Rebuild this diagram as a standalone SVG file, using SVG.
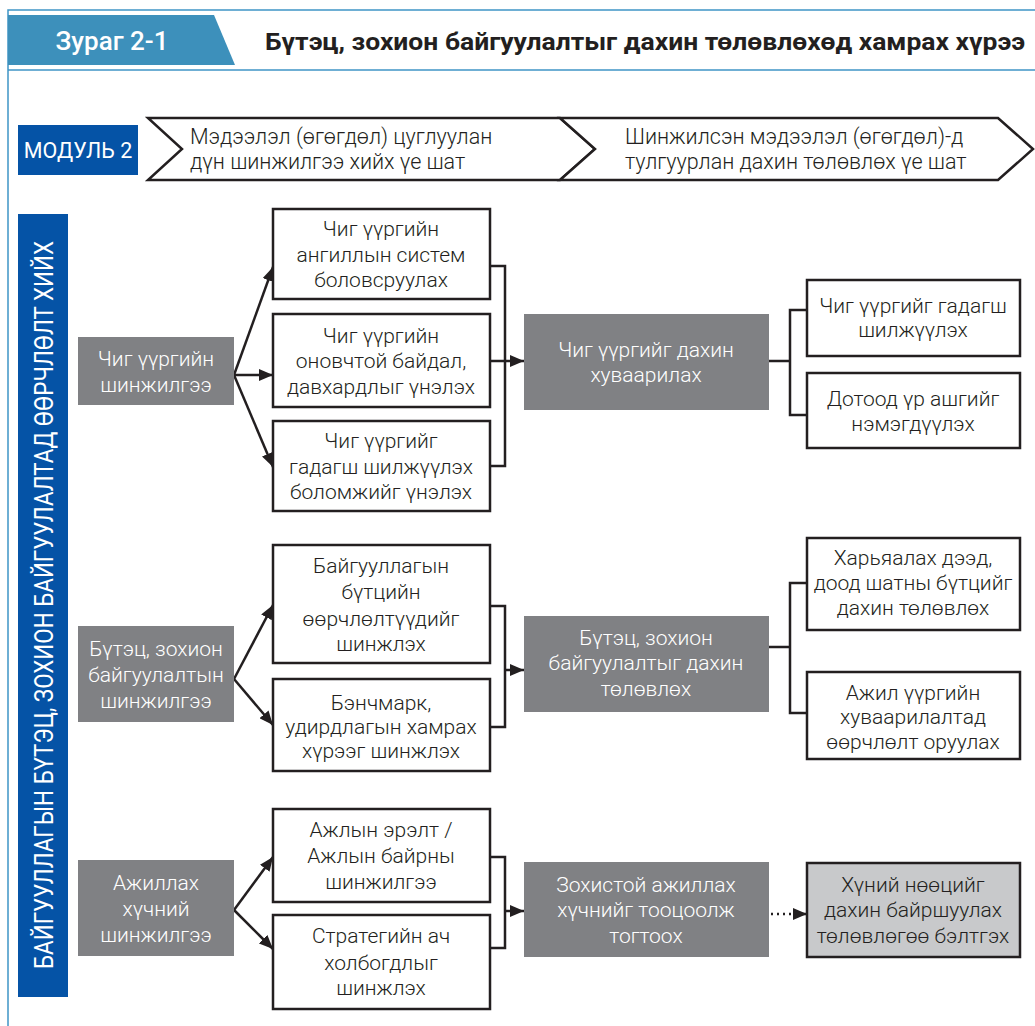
<svg xmlns="http://www.w3.org/2000/svg" width="1035" height="1026" viewBox="0 0 1035 1026">
  <style>
    .frame { fill: none; stroke: #3f95c6; stroke-width: 1.5; }
    .line { fill: none; stroke: #231f20; stroke-width: 2.5; }
    .dot { fill: none; stroke: #231f20; stroke-width: 2.5; stroke-dasharray: 2 4; }
    .box { fill: #ffffff; stroke: #231f20; stroke-width: 2.5; }
    .gray { fill: #808184; }
    .light { fill: #c8c9cb; stroke: #231f20; stroke-width: 2.5; }
    .blue { fill: #0553a6; }
    .t { font-family: Roboto, "Liberation Sans", sans-serif; font-size: 21px; font-weight: 300; text-anchor: middle; fill: #231f20; }
    .tw { font-family: Roboto, "Liberation Sans", sans-serif; font-size: 21px; font-weight: 300; text-anchor: middle; fill: #ffffff; }
    .phase { font-family: Roboto, "Liberation Sans", sans-serif; font-size: 21.5px; font-weight: 300; fill: #231f20; }
  </style>
  <defs>
    <marker id="arrow" viewBox="0 0 14 12" refX="14" refY="6" markerWidth="14" markerHeight="12" markerUnits="userSpaceOnUse" orient="auto">
      <path d="M0,0 L14,6 L0,12 Z" fill="#231f20"/>
    </marker>
  </defs>

  <rect width="1035" height="1026" fill="#ffffff"/>

  <!-- page frame and header -->
  <g id="header">
    <path class="frame" d="M8,1026 V10 H1035"/>
    <line class="frame" x1="8" y1="70" x2="1035" y2="70"/>
    <polygon points="8,15 214,15 235,65 8,65" fill="#3d90bb"/>
    <text x="112" y="50" font-family="Roboto, 'Liberation Sans', sans-serif" font-size="26" font-weight="500" fill="#ffffff" text-anchor="middle">Зураг 2-1</text>
    <text x="265" y="50" font-family="Roboto, 'Liberation Sans', sans-serif" font-size="24" font-weight="700" fill="#231f20" textLength="760" lengthAdjust="spacingAndGlyphs">Бүтэц, зохион байгуулалтыг дахин төлөвлөхөд хамрах хүрээ</text>
  </g>

  <!-- module label and phases -->
  <g id="module">
    <rect class="blue" x="18" y="125" width="120" height="50"/>
    <text x="78" y="158" font-family="Roboto, 'Liberation Sans', sans-serif" font-size="21.5" fill="#ffffff" text-anchor="middle">МОДУЛЬ 2</text>
  </g>
  <g id="phase1">
    <polygon class="box" points="148,118 560,118 595,149 560,180 148,180 182,149"/>
    <text class="phase" x="190" y="144">Мэдээлэл (өгөгдөл) цуглуулан</text>
    <text class="phase" x="190" y="169">дүн шинжилгээ хийх үе шат</text>
  </g>
  <g id="phase2">
    <polygon class="box" points="560,118 998,118 1033,149 998,180 560,180 595,149"/>
    <text class="phase" x="625" y="144">Шинжилсэн мэдээлэл (өгөгдөл)-д</text>
    <text class="phase" x="625" y="169">тулгуурлан дахин төлөвлөх үе шат</text>
  </g>

  <!-- vertical title bar -->
  <g id="side-bar">
    <rect class="blue" x="18" y="214" width="50" height="783"/>
    <text transform="translate(53,605) rotate(-90)" x="0" y="0" font-family="Roboto, 'Liberation Sans', sans-serif" font-size="26" fill="#ffffff" text-anchor="middle" textLength="728" lengthAdjust="spacingAndGlyphs">БАЙГУУЛЛАГЫН БҮТЭЦ, ЗОХИОН БАЙГУУЛАЛТАД ӨӨРЧЛӨЛТ ХИЙХ</text>
  </g>

  <!-- connectors -->
  <g id="connectors">
    <!-- row 1 -->
    <line class="line" x1="234" y1="375" x2="273" y2="267" marker-end="url(#arrow)"/>
    <line class="line" x1="234" y1="375" x2="273" y2="375" marker-end="url(#arrow)"/>
    <line class="line" x1="234" y1="375" x2="273" y2="467" marker-end="url(#arrow)"/>
    <path class="line" d="M490,266 H505 V466 H490"/>
    <line class="line" x1="490" y1="361" x2="524" y2="361" marker-end="url(#arrow)"/>
    <path class="line" d="M769,361 H790 M807,310 H790 V415 H807"/>
    <!-- row 2 -->
    <line class="line" x1="234" y1="679" x2="273" y2="605" marker-end="url(#arrow)"/>
    <line class="line" x1="234" y1="679" x2="273" y2="725" marker-end="url(#arrow)"/>
    <path class="line" d="M490,606 H505 V727 H490"/>
    <line class="line" x1="505" y1="670" x2="524" y2="670" marker-end="url(#arrow)"/>
    <path class="line" d="M769,647 H790 M807,583 H790 V713 H807"/>
    <!-- row 3 -->
    <line class="line" x1="234" y1="910" x2="273" y2="857" marker-end="url(#arrow)"/>
    <line class="line" x1="234" y1="910" x2="273" y2="949" marker-end="url(#arrow)"/>
    <path class="line" d="M490,857 H505 V948 H490"/>
    <line class="line" x1="505" y1="911" x2="524" y2="911" marker-end="url(#arrow)"/>
    <line class="dot" x1="771" y1="914" x2="794" y2="914"/>
    <line class="line" x1="793" y1="914" x2="807" y2="914" marker-end="url(#arrow)"/>
  </g>

  <!-- row 1 nodes -->
  <g id="n-func-analysis">
    <rect class="gray" x="78" y="337" width="156" height="68"/>
    <text class="tw" x="156" y="366">Чиг үүргийн</text>
    <text class="tw" x="156" y="392">шинжилгээ</text>
  </g>
  <g id="n-func-classify">
    <rect class="box" x="273" y="209" width="217" height="90"/>
    <text class="t" x="381" y="236">Чиг үүргийн</text>
    <text class="t" x="381" y="262">ангиллын систем</text>
    <text class="t" x="381" y="287">боловсруулах</text>
  </g>
  <g id="n-func-optimal">
    <rect class="box" x="273" y="314" width="217" height="93"/>
    <text class="t" x="381" y="343">Чиг үүргийн</text>
    <text class="t" x="381" y="368">оновчтой байдал,</text>
    <text class="t" x="381" y="394">давхардлыг үнэлэх</text>
  </g>
  <g id="n-func-outsource-eval">
    <rect class="box" x="273" y="421" width="217" height="90"/>
    <text class="t" x="381" y="448">Чиг үүргийг</text>
    <text class="t" x="381" y="474">гадагш шилжүүлэх</text>
    <text class="t" x="381" y="499">боломжийг үнэлэх</text>
  </g>
  <g id="n-func-redistribute">
    <rect class="gray" x="524" y="314" width="245" height="96"/>
    <text class="tw" x="646" y="357">Чиг үүргийг дахин</text>
    <text class="tw" x="646" y="382">хуваарилах</text>
  </g>
  <g id="n-func-outsource">
    <rect class="box" x="807" y="280" width="213" height="76"/>
    <text class="t" x="913" y="313">Чиг үүргийг гадагш</text>
    <text class="t" x="913" y="337">шилжүүлэх</text>
  </g>
  <g id="n-func-efficiency">
    <rect class="box" x="807" y="373" width="213" height="75"/>
    <text class="t" x="913" y="406">Дотоод үр ашгийг</text>
    <text class="t" x="913" y="431">нэмэгдүүлэх</text>
  </g>

  <!-- row 2 nodes -->
  <g id="n-struct-analysis">
    <rect class="gray" x="78" y="626" width="156" height="96"/>
    <text class="tw" x="156" y="656">Бүтэц, зохион</text>
    <text class="tw" x="156" y="682">байгуулалтын</text>
    <text class="tw" x="156" y="708">шинжилгээ</text>
  </g>
  <g id="n-struct-changes">
    <rect class="box" x="273" y="545" width="217" height="118"/>
    <text class="t" x="381" y="573">Байгууллагын</text>
    <text class="t" x="381" y="599">бүтцийн</text>
    <text class="t" x="381" y="626">өөрчлөлтүүдийг</text>
    <text class="t" x="381" y="651">шинжлэх</text>
  </g>
  <g id="n-struct-benchmark">
    <rect class="box" x="273" y="679" width="217" height="92"/>
    <text class="t" x="381" y="710">Бэнчмарк,</text>
    <text class="t" x="381" y="734">удирдлагын хамрах</text>
    <text class="t" x="381" y="758">хүрээг шинжлэх</text>
  </g>
  <g id="n-struct-replan">
    <rect class="gray" x="524" y="616" width="245" height="96"/>
    <text class="tw" x="646" y="645">Бүтэц, зохион</text>
    <text class="tw" x="646" y="670">байгуулалтыг дахин</text>
    <text class="tw" x="646" y="696">төлөвлөх</text>
  </g>
  <g id="n-struct-levels">
    <rect class="box" x="807" y="538" width="213" height="92"/>
    <text class="t" x="913" y="565">Харьяалах дээд,</text>
    <text class="t" x="913" y="590">доод шатны бүтцийг</text>
    <text class="t" x="913" y="615">дахин төлөвлөх</text>
  </g>
  <g id="n-struct-duties">
    <rect class="box" x="807" y="672" width="213" height="87"/>
    <text class="t" x="913" y="700">Ажил үүргийн</text>
    <text class="t" x="913" y="724">хуваарилалтад</text>
    <text class="t" x="913" y="749">өөрчлөлт оруулах</text>
  </g>

  <!-- row 3 nodes -->
  <g id="n-work-analysis">
    <rect class="gray" x="78" y="860" width="156" height="96"/>
    <text class="tw" x="156" y="890">Ажиллах</text>
    <text class="tw" x="156" y="916">хүчний</text>
    <text class="tw" x="156" y="942">шинжилгээ</text>
  </g>
  <g id="n-work-demand">
    <rect class="box" x="273" y="809" width="217" height="93"/>
    <text class="t" x="381" y="837">Ажлын эрэлт /</text>
    <text class="t" x="381" y="863">Ажлын байрны</text>
    <text class="t" x="381" y="889">шинжилгээ</text>
  </g>
  <g id="n-work-strategy">
    <rect class="box" x="273" y="915" width="217" height="94"/>
    <text class="t" x="381" y="943">Стратегийн ач</text>
    <text class="t" x="381" y="970">холбогдлыг</text>
    <text class="t" x="381" y="995">шинжлэх</text>
  </g>
  <g id="n-work-estimate">
    <rect class="gray" x="524" y="862" width="245" height="95"/>
    <text class="tw" x="646" y="892">Зохистой ажиллах</text>
    <text class="tw" x="646" y="917">хүчнийг тооцоолж</text>
    <text class="tw" x="646" y="943">тогтоох</text>
  </g>
  <g id="n-work-redeploy">
    <rect class="light" x="807" y="863" width="213" height="94"/>
    <text class="t" x="913" y="892">Хүний нөөцийг</text>
    <text class="t" x="913" y="917">дахин байршуулах</text>
    <text class="t" x="913" y="943">төлөвлөгөө бэлтгэх</text>
  </g>
</svg>
